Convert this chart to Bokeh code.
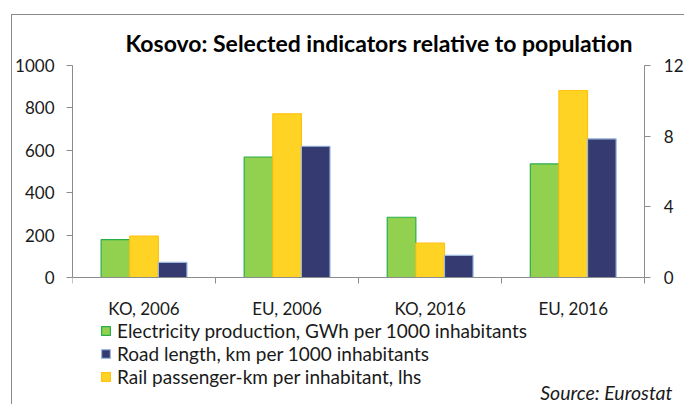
from bokeh.plotting import figure
from bokeh.models import (Range1d, LinearAxis, FixedTicker, Legend,
                          LegendItem, ColumnDataSource, Label)
from bokeh.embed import file_html
from bokeh.resources import INLINE

categories = ["KO, 2006", "EU, 2006", "KO, 2016", "EU, 2016"]
rail_pkm = [195, 772, 162, 882]            # lhs
electricity_gwh = [2.14, 6.82, 3.41, 6.43]  # rhs
road_km = [0.86, 7.43, 1.25, 7.85]          # rhs
left_ticks = [0, 200, 400, 600, 800, 1000]
right_ticks = [0, 4, 8, 12]

FONT = "Lato"
AX = "#8c8c8c"
TXT = "#1a1a1a"

# canvas geometry (px)
W, H = 673, 390
LEFT = 57
PLOT_H = 212      # pixels from value 0 to axis maximum
ABOVE = 50        # frame pixels above the axis maximum
BELOW = 128       # frame pixels below the zero line
RIGHT_EXTRA = 41  # frame pixels right of the last category boundary
CAT_W = 144

lo, hi = BELOW / PLOT_H, ABOVE / PLOT_H
p = figure(width=W, height=H,
           x_range=Range1d(0, 4 + RIGHT_EXTRA / CAT_W),
           y_range=Range1d(-1000 * lo, 1000 * (1 + hi)),
           output_backend="svg", toolbar_location=None,
           min_border_left=LEFT, min_border_right=0, min_border_top=0,
           min_border_bottom=0)
p.title.visible = False
p.extra_y_ranges = {"r": Range1d(-12 * lo, 12 * (1 + hi))}
p.outline_line_color = None
p.grid.visible = False
p.background_fill_color = "white"
p.border_fill_color = "white"
p.margin = (14, 0, 0, 11)
p.styles = {"border-left": "1px solid #8a8a8a", "border-top": "1px solid #8a8a8a"}

centers = [i + 0.5 for i in range(len(categories))]
src = ColumnDataSource(dict(
    xg=[c - 0.2 for c in centers], xy=centers, xn=[c + 0.2 for c in centers],
    elec=electricity_gwh, rail=rail_pkm, road=road_km))

rg = p.vbar(x="xg", top="elec", width=0.2, source=src, y_range_name="r",
            fill_color="#92D050", line_color="#27AE4A", line_width=1.2)
ry = p.vbar(x="xy", top="rail", width=0.2, source=src,
            fill_color="#FFD324", line_color="#FFC20E", line_width=1.2)
rn = p.vbar(x="xn", top="road", width=0.2, source=src, y_range_name="r",
            fill_color="#353B70", line_color="#9DB9DE", line_width=1.2)

def style_axis(ax):
    ax.axis_line_color = AX
    ax.major_tick_line_color = AX
    ax.minor_tick_line_color = None
    ax.major_tick_in = 0
    ax.major_tick_out = 6
    ax.major_label_standoff = 12
    ax.major_label_text_font = FONT
    ax.major_label_text_font_size = "17px"
    ax.major_label_text_color = TXT

xa = p.xaxis[0]
style_axis(xa)
xa.fixed_location = 0
xa.bounds = (0, 4)
xa.ticker = FixedTicker(ticks=centers, minor_ticks=[0, 1, 2, 3, 4])
xa.major_label_overrides = {c: lab for c, lab in zip(centers, categories)}
xa.major_tick_out = 0
xa.minor_tick_line_color = AX
xa.minor_tick_in = 0
xa.minor_tick_out = 6
xa.major_label_standoff = 14

ya = p.yaxis[0]
style_axis(ya)
ya.bounds = (0, 1000)
ya.ticker = FixedTicker(ticks=left_ticks)

yr = LinearAxis(y_range_name="r", ticker=FixedTicker(ticks=right_ticks),
                fixed_location=4, bounds=(0, 12))
style_axis(yr)
yr.major_label_standoff = 13
p.add_layout(yr, "right")

p.add_layout(Label(x=306.5, y=363, x_units="screen", y_units="screen",
                   text="Kosovo: Selected indicators relative to population",
                   text_font=FONT, text_font_style="bold",
                   text_font_size="23px", text_align="center",
                   text_baseline="middle", text_color="#000000"))

legend = Legend(items=[
    LegendItem(label="Electricity production, GWh per 1000 inhabitants", renderers=[rg]),
    LegendItem(label="Road length, km per 1000 inhabitants", renderers=[rn]),
    LegendItem(label="Rail passenger-km per inhabitant, lhs", renderers=[ry]),
], location=(28, 17), glyph_width=11, glyph_height=11, label_text_font=FONT,
    label_text_font_size="19px", label_text_color=TXT, spacing=0, padding=0,
    margin=0, border_line_color=None, background_fill_alpha=0, label_standoff=6,
    label_height=22)
p.add_layout(legend, "center")

p.add_layout(Label(x=600, y=2, x_units="screen", y_units="screen",
                   text="Source: Eurostat", text_font=FONT,
                   text_font_style="italic", text_font_size="19.5px",
                   text_align="right", text_color=TXT))

open("out.html", "w").write(file_html(p, INLINE))
